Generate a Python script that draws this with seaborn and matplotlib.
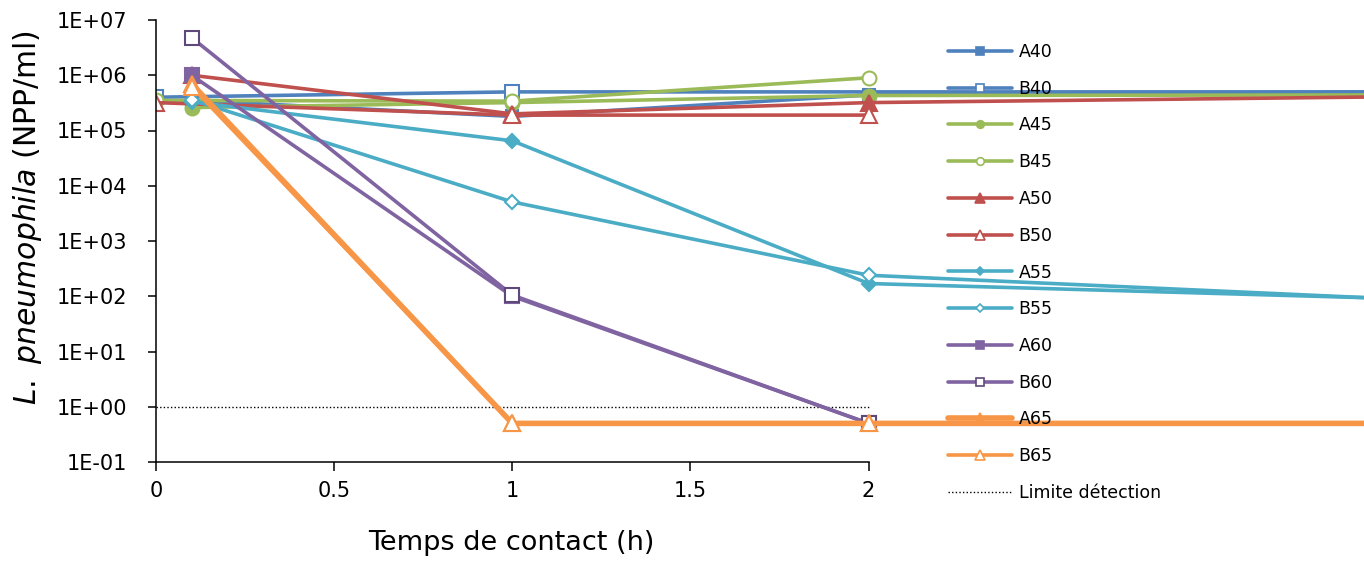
import matplotlib
matplotlib.use("Agg")
import matplotlib.pyplot as plt
from matplotlib.lines import Line2D
import seaborn as sns
import pandas as pd

# ---------------- data ----------------
series_names = ["A40", "B40", "A45", "B45", "A50", "B50",
                "A55", "B55", "A60", "B60", "A65", "B65"]

# contact times (h); 3.5 = continuation beyond the visible axis
t_A40 = [0.1, 1, 2, 3.5]
v_A40 = [3.5e5, 1.8e5, 4.4e5, 5.0e5]
t_B40 = [0, 1, 3.5]
v_B40 = [4.0e5, 5.0e5, 5.0e5]
t_A45 = [0.1, 1, 2, 3.5]
v_A45 = [2.6e5, 3.2e5, 4.3e5, 4.4e5]
t_B45 = [0, 1, 2]
v_B45 = [3.5e5, 3.4e5, 9.0e5]
t_A50 = [0.1, 1, 2, 3.5]
v_A50 = [1.0e6, 2.0e5, 3.2e5, 4.1e5]
t_B50 = [0, 1, 2]
v_B50 = [3.2e5, 1.9e5, 1.9e5]
t_A55 = [0.1, 1, 2, 3.5]
v_A55 = [3.3e5, 6.5e4, 1.7e2, 9.0e1]
t_B55 = [0.1, 1, 2, 3.5]
v_B55 = [3.6e5, 5.1e3, 2.4e2, 8.8e1]
t_A60 = [0.1, 1, 2, 3.5]
v_A60 = [1.0e6, 1.0e2, 0.5, 0.5]
t_B60 = [0.1, 1, 2, 3.5]
v_B60 = [4.8e6, 1.05e2, 0.5, 0.5]
t_A65 = [0.1, 1, 2, 3.5]
v_A65 = [7.0e5, 0.5, 0.5, 0.5]
t_B65 = [0.1, 1, 2, 3.5]
v_B65 = [6.2e5, 0.5, 0.5, 0.5]

detect_t = [0, 2]
detect_v = [1, 1]
detect_label = "Limite détection"

x_ticks = [0, 0.5, 1, 1.5, 2]
x_tick_labels = ["0", "0.5", "1", "1.5", "2"]
y_exponents = [-1, 0, 1, 2, 3, 4, 5, 6, 7]
y_tick_labels = ["1E-01", "1E+00", "1E+01", "1E+02", "1E+03", "1E+04",
                 "1E+05", "1E+06", "1E+07"]

x_label = "Temps de contact (h)"
y_label = r"$\mathit{L.}$ $\mathit{pneumophila}$ (NPP/ml)"

all_t = {"A40": t_A40, "B40": t_B40, "A45": t_A45, "B45": t_B45,
         "A50": t_A50, "B50": t_B50, "A55": t_A55, "B55": t_B55,
         "A60": t_A60, "B60": t_B60, "A65": t_A65, "B65": t_B65}
all_v = {"A40": v_A40, "B40": v_B40, "A45": v_A45, "B45": v_B45,
         "A50": v_A50, "B50": v_B50, "A55": v_A55, "B55": v_B55,
         "A60": v_A60, "B60": v_B60, "A65": v_A65, "B65": v_B65}

rows = []
for n in series_names:
    for t, v in zip(all_t[n], all_v[n]):
        rows.append({"serie": n, "t": t, "v": v})
df = pd.DataFrame(rows)

# ---------------- styles ----------------
BLUE, RED, GREEN = "#4F81BD", "#C0504D", "#9BBB59"
PURPLE, AQUA, ORANGE = "#8064A2", "#4BACC6", "#F79646"
styles = {
    "A40": dict(color=BLUE, marker="s", fc=BLUE, ec=BLUE, ms=9, lms=5.5),
    "B40": dict(color=BLUE, marker="s", fc="white", ec=BLUE, ms=9.5, lms=5.5),
    "A45": dict(color=GREEN, marker="o", fc=GREEN, ec=GREEN, ms=10, lms=5.5),
    "B45": dict(color=GREEN, marker="o", fc="white", ec=GREEN, ms=10, lms=5.5),
    "A50": dict(color=RED, marker="^", fc=RED, ec=RED, ms=11, lms=6.5),
    "B50": dict(color=RED, marker="^", fc="white", ec=RED, ms=11.5, lms=6.5),
    "A55": dict(color=AQUA, marker="D", fc=AQUA, ec=AQUA, ms=7, lms=3.8),
    "B55": dict(color=AQUA, marker="D", fc="white", ec=AQUA, ms=7, lms=3.8),
    "A60": dict(color=PURPLE, marker="s", fc=PURPLE, ec=PURPLE, ms=10, lms=5.5),
    "B60": dict(color=PURPLE, marker="s", fc="white", ec="#5F497A", ms=10, lms=5.5),
    "A65": dict(color=ORANGE, marker="^", fc=ORANGE, ec=ORANGE, ms=11, lms=6.5),
    "B65": dict(color=ORANGE, marker="^", fc="white", ec=ORANGE, ms=11.5, lms=6.5),
}
line_w = {n: 2.6 for n in series_names}
line_w["A65"] = 4.0

sns.set_style("white")
plt.rcParams["font.family"] = ["DejaVu Sans"]
plt.rcParams["mathtext.fontset"] = "dejavusans"
plt.rcParams["text.color"] = "black"
plt.rcParams["xtick.color"] = "black"
plt.rcParams["ytick.color"] = "black"
plt.rcParams["axes.labelcolor"] = "black"

W, H = 1364, 561
fig = plt.figure(figsize=(W / 100, H / 100), dpi=100)
ax = fig.add_axes([156 / W, (H - 462) / H, 1208 / W, 442 / H])

# detection limit
sns.lineplot(x=detect_t, y=detect_v, ax=ax, color="black", linewidth=1.0,
             linestyle=(0, (1, 1.6)), legend=False, sort=False)

for n in series_names:
    s = styles[n]
    sub = df[df["serie"] == n]
    sns.lineplot(data=sub, x="t", y="v", ax=ax, color=s["color"],
                 linewidth=line_w[n], marker=s["marker"], markersize=s["ms"],
                 markerfacecolor=s["fc"], markeredgecolor=s["ec"],
                 markeredgewidth=1.5, legend=False, sort=False,
                 estimator=None)

ax.set_yscale("log")
ax.set_ylim(10.0 ** y_exponents[0], 10.0 ** y_exponents[-1])
ax.set_yticks([10.0 ** e for e in y_exponents])
ax.set_yticklabels(y_tick_labels)
ax.yaxis.set_minor_locator(matplotlib.ticker.NullLocator())
ax.set_xlim(0, 1208 / 356.3)
ax.set_xticks(x_ticks)
ax.set_xticklabels(x_tick_labels)
ax.set_xlabel("")
ax.set_ylabel("")

for sp in ["top", "right"]:
    ax.spines[sp].set_visible(False)
for sp in ["left", "bottom"]:
    ax.spines[sp].set_color("black")
    ax.spines[sp].set_linewidth(1.1)
ax.spines["bottom"].set_bounds(0, 2)

ax.tick_params(axis="y", which="major", direction="out", length=6, width=1.1,
               color="black", labelcolor="black", labelsize=15, pad=14.6,
               left=True)
ax.tick_params(axis="x", which="major", direction="out", length=6.5, width=1.1,
               color="black", labelcolor="black", labelsize=15, pad=7,
               bottom=True)

fig.text(511 / W, 1 - 543 / H, x_label, ha="center", va="center",
         fontsize=19.5, color="black")
fig.text(28 / W, 1 - 218 / H, y_label, ha="center", va="center",
         fontsize=21.5, rotation=90, color="black")

# legend
handles = []
for n in series_names:
    s = styles[n]
    handles.append(Line2D([], [], color=s["color"], linewidth=line_w[n],
                          marker=s["marker"], markersize=s["lms"],
                          markerfacecolor=s["fc"], markeredgecolor=s["ec"],
                          markeredgewidth=1.2))
handles.append(Line2D([], [], color="black", linewidth=1.0,
                      linestyle=(0, (1, 1.6))))
labels = series_names + [detect_label]
leg = ax.legend(handles, labels, loc="upper left",
                bbox_to_anchor=(948 / W, 1 - 43 / H),
                bbox_transform=fig.transFigure,
                frameon=False, fontsize=12.5, handlelength=3.7,
                handletextpad=0.37, labelspacing=1.08, borderpad=0,
                borderaxespad=0)
for txt in leg.get_texts():
    txt.set_color("black")

fig.savefig("out.png", dpi=100)
